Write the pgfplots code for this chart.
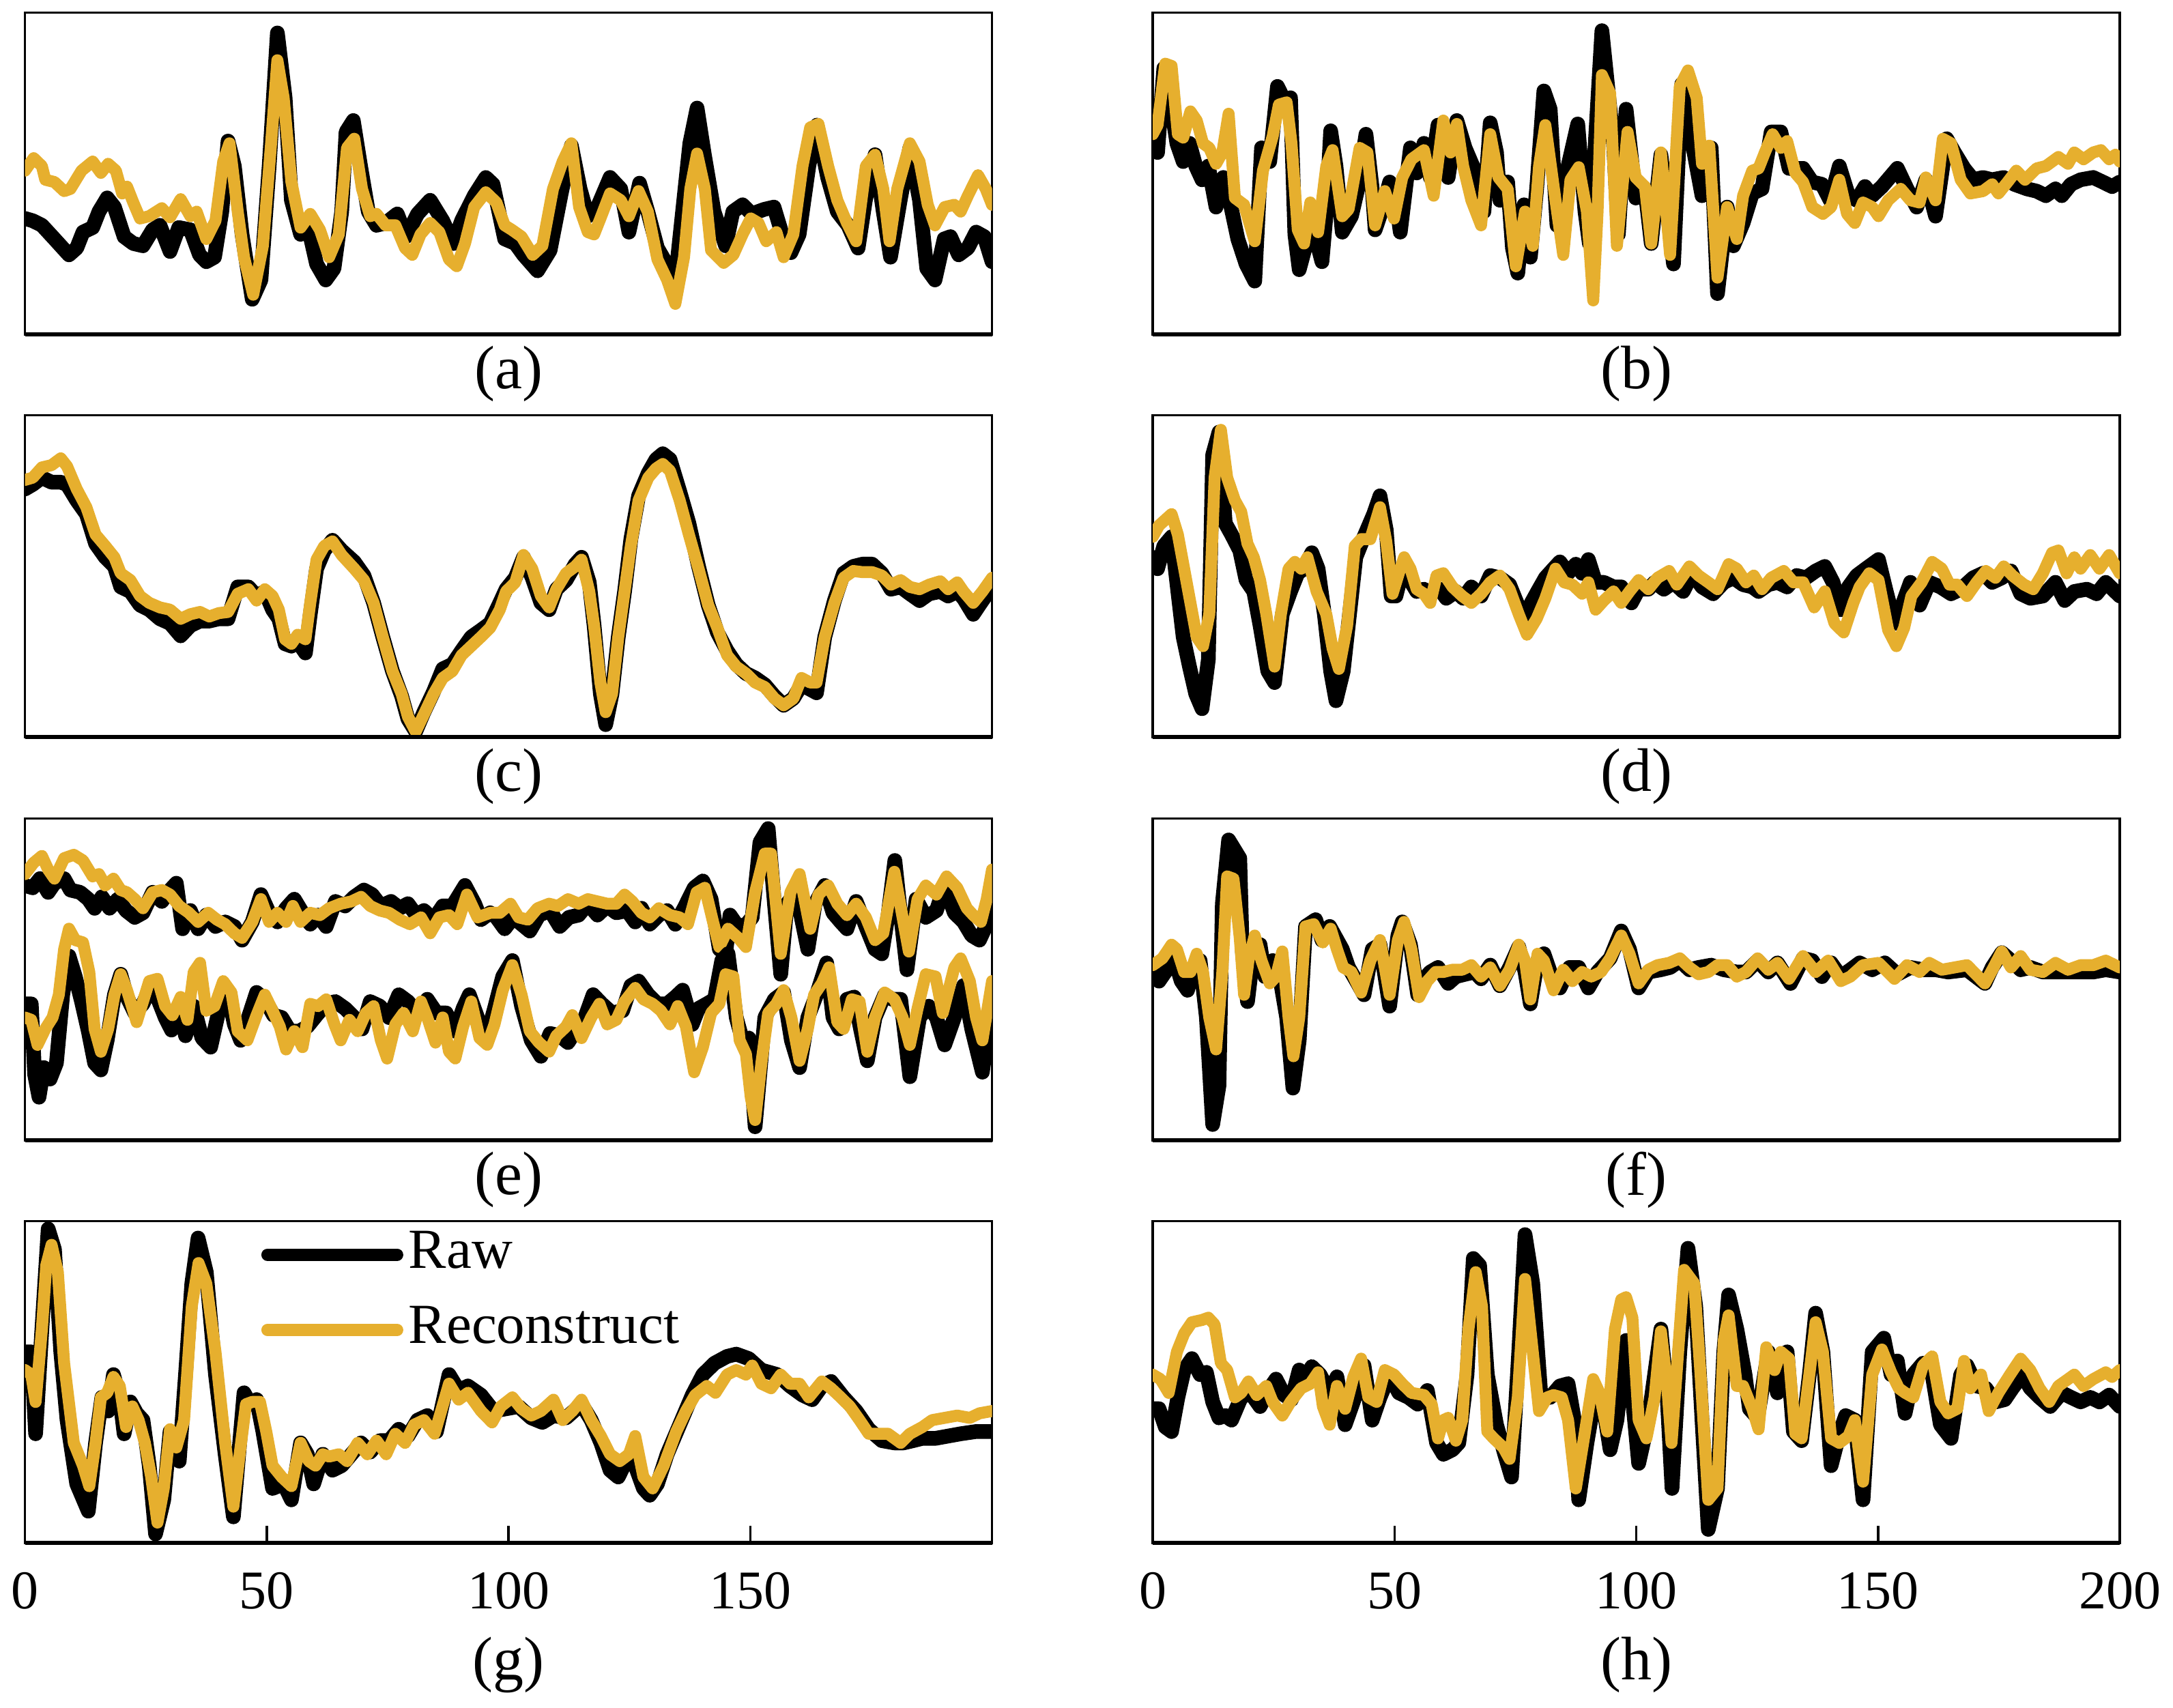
\documentclass[border=0pt]{standalone}
\usepackage{fontspec}
\setmainfont{Liberation Serif}
\usepackage{pgfplots}
\pgfplotsset{compat=1.18}
\definecolor{recc}{RGB}{230,175,46}
\pgfplotsset{
  panel/.style={
    scale only axis, width=141.7pt, height=47.2pt,
    xmin=0, xmax=200, ymin=0, ymax=141.5,
    xtick=\empty, ytick=\empty,
    axis line style={line width=0.35pt},
    anchor=north west,
    after end axis/.code={\draw[line width=0.6pt] (rel axis cs:0,0) -- (rel axis cs:1,0);},
  },
  bottompanel/.style={
    xtick pos=left, tick align=inside, major tick length=2.5pt,
    xtick style={line width=0.35pt, black},
    ticklabel style={font=\fontsize{8}{9}\selectfont, yshift=-0.8pt},
    /pgf/number format/assume math mode=true,
  },
  raw/.style={black, line width=2.15pt, line join=round, line cap=round},
  rec/.style={recc, line width=1.75pt, line join=round, line cap=round},
}
\newcommand\sublabel[3]{\node[font=\fontsize{9}{10}\selectfont] at ([yshift=-#2]#1.south) {#3};}

\begin{document}
\begin{tikzpicture}
\path[use as bounding box] (0,0) rectangle (318.4pt,-250.3pt);

% (a)
\begin{axis}[panel, at={(3.66pt,-1.83pt)}, name=a]
\addplot[raw] coordinates {(0,51)(1.6,50)(3.5,48)(6.1,42)(9.1,35)(10.7,38)(12,45)(14,47)(15.3,54)(17,60)(18.5,56)(20.5,43)(22.4,40)(24.4,39)(26.4,46)(27.9,48)(30,36.5)(31.8,47)(34.2,46)(36.1,35)(37.5,32)(39.2,34)(40.7,54)(42,85)(43.3,74)(44.9,44)(47,15.5)(48.8,24)(50.5,74)(52.2,132.5)(53.8,104)(55.1,59)(57,44)(58.7,46)(60.3,31)(62.2,24)(63.9,29)(65.5,54)(66.4,89)(67.9,94)(69.4,74)(71,54)(72.7,48)(74.6,49)(77,53)(78.8,43)(81.2,53)(83.8,59)(86.4,50)(88.6,40)(90.3,50)(92.9,61)(95.3,69)(96.8,66)(99.2,42)(101.4,40)(103.1,35)(106,28)(108.6,37)(110.9,62)(113,83)(114.8,64)(116.4,52)(118.4,56)(121,69)(123.2,64)(124.9,45)(127.1,66.5)(128.8,54)(130.8,38)(132.7,31)(134.4,22)(136,54)(137.5,84)(139,99.5)(140.5,79)(142.5,54)(144.9,39)(146.4,54)(148.4,57)(150.3,53)(152.9,55)(154.9,56)(156.6,44)(158.4,36)(160.1,44)(162.1,74)(163.8,92)(166,69)(168,54)(170.2,48)(172.3,38)(173.8,59)(175.8,79)(177.5,54)(179,34)(181,59)(183,82)(185,59)(186.5,29)(188.2,24)(190.1,42)(191.4,43)(193.1,35)(195,38)(196.7,45)(198.4,43)(200,32)};
\addplot[rec] coordinates {(0,72)(1.8,77.5)(3.5,74)(4.2,68)(6.1,67)(8.1,63)(9.4,64)(11.7,72)(14,76)(15.7,71)(17.2,75)(18.8,72)(20.1,62)(21.1,65)(22.4,58)(23.8,51)(25.7,52)(28.3,55.5)(30,51.5)(32.2,59.5)(34.2,52)(35.5,54)(37.5,42)(39.4,50)(41,76)(42.3,84)(44,54)(45.3,34)(47.2,17.5)(49.2,39)(50.9,84)(52.2,120.5)(53.5,104)(55.1,67)(57,47)(59,53)(61,46)(62.9,34)(64.9,44)(66.6,82)(68.1,86)(69.7,64)(71.4,52)(72.7,53)(74.6,48)(76.6,48)(78.6,38)(80.1,35)(81.8,44)(83.8,49)(85.7,45)(87.7,33)(89.3,30)(91,40)(92.9,56)(95.3,62.5)(97.5,58)(99.2,48)(100.7,46)(102.7,43)(105,35)(107,39)(109.2,64)(111.2,76)(113,84)(114.6,56)(116.4,45)(117.7,44)(119,51)(121,62)(123.2,59)(124.9,52)(126.9,63)(128.8,54)(130.8,33)(132.8,24)(134.5,13.5)(136.3,34)(137.6,64)(139,79.5)(140.6,64)(141.9,37)(144.5,31.5)(146.5,35)(148.4,44)(150.1,51)(151.7,49)(153.3,41)(155.4,45)(156.9,34)(158.9,44)(160.8,74)(162.4,91)(164.1,92.5)(166.1,74)(168,59)(170,49)(171.9,41)(173.9,74)(175.8,79)(177.5,64)(178.8,41)(180.4,64)(183,84)(185,76)(186.7,57)(188.2,48)(190.2,56)(192.2,57)(193.5,54)(195,61)(197.1,70)(198.7,64)(200,57)};
\end{axis}
\sublabel{a}{5.8pt}{(a)}

% (b)
\begin{axis}[panel, at={(168.9pt,-1.83pt)}, name=b]
\addplot[raw] coordinates {(0,82)(1,80)(2.3,117)(3.7,102)(5,84)(6.3,76)(7.6,84)(8.9,74)(10.2,68)(11.5,74)(13.1,56)(14.6,69)(15.9,59)(17.6,42)(19.3,31)(21.1,23.5)(22.5,82)(24.2,76)(25.8,109)(27.4,102)(28.5,104)(29.4,44)(30.3,28.5)(32.9,49)(35,32)(35.9,54)(36.8,89.5)(37.9,74)(39.2,45)(41.1,52)(42.4,64)(44.1,88)(45.4,64)(46,46)(47.6,56)(49,67)(50.3,59)(51.2,45)(53.3,82)(54.6,71)(56.1,84)(57.4,69)(59,92)(61.1,69)(62.9,94)(64.6,82)(66.6,72)(68.5,54)(69.8,93)(71.1,80)(71.8,59)(73.4,67)(74.4,38)(75.5,27)(76.8,57)(78.1,34)(79.4,64)(80.9,107)(82.2,99)(83.6,48)(85.9,74)(87.9,92.5)(89.4,54)(90.3,40)(92.9,133.5)(95.3,84)(96.3,44)(97.9,99)(99.9,60)(101.8,64)(103.1,40)(105.1,79)(107.7,31)(109.4,110)(111.6,84)(113.6,61)(115.5,82)(116.8,18)(118.8,56)(120.1,39)(122.1,49)(124,62)(126,64)(127.9,89)(129.9,89)(131.6,73)(134.5,73)(136.4,67)(138.4,66)(140.1,59)(142,74)(143.9,61)(145.6,59)(147.3,65)(148.8,61)(150.8,65)(154,73)(156,64)(158,56)(159.9,68)(161.9,52)(163.4,74)(164.2,86)(165.8,80)(167.8,73)(169.7,68)(171.7,69)(173.6,68)(176,69)(178.2,66)(180.8,64)(182.8,63)(184.7,61)(186.7,64)(188,61)(189.9,66)(191.9,68)(194.5,69)(196.5,67)(198.4,65)(200,67)};
\addplot[rec] coordinates {(0,88)(1,92)(2.6,119)(3.9,118)(5.2,88)(6.3,86.5)(7.8,98)(9.1,94)(10.4,84)(11.7,82)(13.1,75)(14.4,80)(15.7,97)(17,60)(18.9,57)(21.1,41)(22.8,72)(24.8,87)(26.1,101)(27.7,102)(28.7,84)(30,46)(31.3,40)(32.6,58)(34.2,45)(35.9,74)(37.2,81)(39.2,52)(40.5,55)(42.8,82)(44.4,80)(46,48)(48,63)(49.9,51)(51.6,69)(53.5,77)(56.1,81)(58.1,61)(60.1,94)(61.6,80)(62.9,92.5)(64.2,74)(65.9,59)(67.9,48)(69.8,88)(71.5,69)(73.4,64)(75.1,30)(77,54)(78.6,39)(79.9,74)(81.2,92)(83.3,59)(84.9,35)(86.4,68)(88.1,73.5)(89.8,54)(91.1,15)(92,54)(92.9,114)(94.6,106)(96,39)(98.2,89)(99.9,69)(101.8,65)(103.1,40)(105.1,80)(107,35)(109,109)(110.7,116)(112.5,104)(113.6,75)(115.1,83)(116.8,25)(118.8,56)(120.8,42)(122.1,61)(124,72)(125.3,73)(126.6,80)(128.2,88)(129.9,82)(131.2,85)(132.9,71)(134.5,67)(136.4,56)(138.6,53)(140.3,56)(142,68)(143.6,53)(145.2,49)(146.9,58)(148.8,56)(150.1,52)(152.1,59)(154.7,64)(156.7,59)(158.6,58)(159.9,69)(161.9,59)(163.4,86)(165.1,84)(167.1,68)(169.1,62)(171.7,63)(173.6,66)(174.9,62)(176.8,67)(178.6,72)(180.4,68)(182.8,73)(184.7,74)(187.3,78)(189.3,75)(190.6,80)(192.5,77)(194.5,80)(196.1,81)(197.8,77)(199.1,79)(200,76)};
\end{axis}
\sublabel{b}{5.8pt}{(b)}

% (c)
\begin{axis}[panel, at={(3.66pt,-60.83pt)}, name=c]
\addplot[raw] coordinates {(0,109)(1.6,111)(3.5,114)(5.5,112)(7.4,112)(8.7,111)(10.7,104)(12.7,98)(14.6,85)(16.6,79)(18.5,75)(19.8,66)(21.8,64)(23.8,58)(25.7,56)(27.9,52)(30,50)(32.2,44.5)(34.2,49)(36.2,51)(38.1,51)(40.1,52)(42,52)(44,66)(46.2,66)(47.9,62)(49.6,64)(51.2,56)(52.5,52)(53.8,41)(55.1,40)(56.4,42)(58,37)(59,54)(60.3,74)(61.9,82)(63.6,86.5)(65.5,82)(68.1,77)(70.1,71)(72.1,59)(74,44)(76,29)(77.9,18)(79.2,8)(80.8,2.5)(82.5,11)(84.5,20)(86.4,30)(88.4,32)(90.3,38)(92.3,44)(94.3,47)(96.2,50)(98.2,59)(99.5,65)(101.4,70)(103.1,79)(104.9,70)(106.7,59)(108.4,56)(109.9,65)(111.9,69)(113.8,76)(115.1,79)(116.7,68)(117.7,49)(119,19)(120.1,5.5)(121.4,19)(122.7,44)(124,64)(125.3,87)(126.9,106)(128.9,116)(130.5,122)(131.9,124.5)(133.4,122)(135.4,108)(137.3,94)(139.3,75)(141.3,58)(143.2,46)(145.2,38)(147.1,32)(149.1,28)(151,26)(153,23)(155,18)(156.9,14)(158.9,17)(160.6,23)(162.4,21)(163.7,19.5)(165.4,44)(167.4,60)(169.3,72)(171.3,75)(173.2,76)(175.2,76)(177.2,72)(179.1,65)(181.1,66)(183,63)(185,60)(187,63)(189.3,64)(190.9,62)(192.8,64)(194.1,61)(196.1,54)(198,60)(200,66)};
\addplot[rec] coordinates {(0,113)(1.6,114)(3.5,118.5)(5.5,119.5)(7.4,122.5)(8.7,119)(10.7,109)(12.7,101)(14.6,89)(16.6,84)(18.5,79)(19.8,72)(21.8,69)(23.8,62)(25.7,59)(27.9,57)(30,56)(32.2,52)(34.2,54)(36.2,55)(38.1,53)(40.1,54.5)(42,55)(44,63)(46.2,65)(47.9,60)(49.6,65)(51.2,62)(52.5,56)(53.8,43)(55.1,41)(56.4,45)(58,43)(59,59)(60.3,78)(61.9,84)(63.6,86)(65.5,80)(68.1,74)(70.1,69)(72.1,59)(74,44)(76,29)(77.9,19)(79.2,9)(80.8,2.5)(82.5,10)(84.5,19)(86.4,26)(88.4,29)(90.3,36)(92.3,40)(94.3,44)(96.2,48)(98.2,56)(99.5,64)(101.4,68)(103.1,80)(104.9,74)(106.7,62)(108.4,57)(109.9,65)(111.9,72)(113.8,75)(115.1,78)(116.7,64)(117.7,49)(119,24)(120.1,11)(121.4,19)(122.7,44)(124,64)(125.3,84)(126.9,104)(128.9,114)(130.5,118)(131.9,120)(133.4,117)(135.4,104)(137.3,89)(139.3,74)(141.3,58)(143.2,48)(145.2,36)(147.1,31)(149.1,28)(151,24)(153,22)(155,17)(156.9,14)(158.9,17)(160.6,26)(162.4,24)(163.7,24)(165.4,44)(167.4,59)(169.3,70)(171.3,73)(173.2,72.5)(175.2,72.5)(177.2,71)(179.1,67)(181.1,69)(183,66)(185,65)(187,67)(189.3,68.5)(190.9,65)(192.8,68)(194.1,64)(196.1,59)(198,64)(200,70)};
\end{axis}
\sublabel{c}{5.8pt}{(c)}

% (d)
\begin{axis}[panel, at={(168.9pt,-60.83pt)}, name=d]
\addplot[raw] coordinates {(0,79)(1,74)(2.3,84)(3.9,88)(5.2,64)(6.3,44)(7.6,31)(8.9,19)(10.2,12.5)(11.5,34)(12.4,124)(13.7,134)(15,94)(16.3,89)(18,82)(19.3,69)(20.9,64)(22.2,49)(23.8,29)(25.2,24)(26.8,54)(28.5,64)(30,72)(31.3,74)(32.9,81)(34.2,74)(35.5,54)(36.8,29)(37.9,16)(39.4,29)(40.7,54)(42,79)(43.7,88)(45.7,98)(47,106)(48.3,91)(49.3,62)(50.3,62)(51.6,73)(52.9,70)(54.6,64)(56.1,65)(57.4,63)(59.4,65)(60.7,61)(62.7,64)(64.2,61)(65.9,66)(67.9,62)(69.8,71)(71.8,70)(73.8,67)(75.7,57)(77,52)(78.3,59)(79.6,64)(81.2,70)(82.9,74)(84.2,77)(85.9,72)(87.5,76)(88.8,72)(90.1,78)(91.6,68)(93.3,68)(95.3,66)(96.9,66)(99,59)(100.5,65)(102.5,65)(103.8,68)(105.7,65)(107.7,68)(109.7,64)(111.6,72)(113.6,66)(115.9,63)(118.1,68)(120.1,70)(122.1,67)(124,66)(125.3,64)(127.3,67)(129.2,68)(131.2,66)(133.2,71)(135.1,70)(137.1,73)(139,75)(140.7,68)(142.3,56)(143.9,66)(145.6,71)(147.5,74)(150.1,78)(151.7,64)(153.4,50)(155,58)(156.7,68)(158.6,58)(160.6,68)(162.9,66)(165.1,63)(167.1,65)(169.7,70)(171.7,72)(173.6,68)(175.6,70)(177.5,73)(179.5,63)(181.5,61)(184.1,62)(186.7,68)(188.6,60)(190.6,64)(193.2,65)(195.2,63)(197.1,68)(200,62)};
\addplot[rec] coordinates {(0,88)(1.3,93)(3.9,98)(5.2,89)(6.5,74)(7.8,59)(9.1,44)(10.4,40)(11.7,54)(12.8,114)(14.1,135)(15.4,114)(17,104)(18.3,99)(19.6,85)(20.9,79)(22.2,69)(23.5,54)(25.2,31)(26.5,54)(28.1,74)(29.4,77)(30.7,74)(32,79)(33.9,64)(35.9,54)(37.2,39)(38.5,30)(40.2,49)(41.8,84)(43.1,87)(45,87)(47,101)(48.3,86)(49.6,63)(50.9,72)(52,79)(53.3,74)(54.6,65)(56.1,63)(57.4,59)(58.7,71)(60.1,72)(62,66)(64,62)(65.9,59)(67.9,63)(69.8,68)(71.8,71)(73.8,65)(75.7,54)(77.4,45)(79.4,52)(81.2,61)(83.3,74)(85.1,68)(86.8,67)(88.8,63)(90.1,68)(91.6,56)(93.3,60)(95.3,64)(96.9,59)(98.6,64)(100.5,69)(102.5,65)(104.4,70)(106.8,73)(108.4,67)(111,75)(112.9,71)(114.9,68)(116.8,65)(119.1,76)(120.8,74)(122.7,68)(124.3,71)(126,65)(127.9,70)(130.5,73)(132.5,68)(134.5,68)(136.8,57)(139,64)(141,50)(142.9,46)(144.9,59)(146.2,66)(148.2,72)(150.1,69)(152.1,47)(153.8,40)(155.4,48)(156.9,62)(159,68)(161.2,77)(163.2,74)(164.8,67)(166.4,67)(168.4,62)(170.4,68)(172.3,73)(174.3,70)(176,75)(177.8,71)(180.2,67)(182.1,65)(184.1,72)(186,81)(187.3,82)(189,72)(190.6,79)(191.9,74)(193.9,80)(195.8,74)(197.8,80)(200,72)};
\end{axis}
\sublabel{d}{5.8pt}{(d)}

% (e)
\begin{axis}[panel, at={(3.66pt,-119.93pt)}, name=e]
\addplot[raw] coordinates {(0,112)(1.6,111)(3.1,115)(4.8,109)(6.1,113)(8.1,115)(9.4,110)(11.4,109)(13.1,106)(14.4,102)(15.9,107)(17.5,102)(19.2,106)(20.9,101)(22.7,98)(24.4,100)(26.4,109)(28.3,105)(30,110)(31.3,113)(32.6,93)(34.2,101)(35.8,93)(37.5,99)(39.4,94)(41.4,96)(43.3,94)(44.9,88)(47,96)(48.8,108)(50.5,100)(52.2,96)(54,102)(55.7,106)(57.4,100)(59,95)(60.6,99)(62.3,94)(64.2,105)(66.2,103)(68.1,107)(70.1,110)(71.8,108)(73.6,103)(75.7,105)(77.5,102)(79.2,104)(80.9,99)(82.5,101)(84.5,97)(86.4,103)(88.4,103)(91,112)(93,104)(94.3,97)(96.2,100)(97.5,98)(99.2,93)(101,98)(102.7,95)(104.4,92)(106.3,99)(108.6,101)(110.6,94)(112.5,98)(114.5,99)(116.4,104)(118.4,99)(120.4,103)(122.3,100)(124.5,101)(126.2,96)(127.5,102)(129.2,95)(131.1,99)(132.8,101)(134.5,95)(136.3,102)(138.4,111)(140.2,114)(141.9,106)(143.6,84)(144.9,82)(145.8,99)(147.1,95)(148.8,94)(150.4,98)(152,131)(153.7,137)(155,104)(156.3,73)(157.6,104)(159.5,109)(161.9,84)(163.4,104)(165.4,112)(167.1,100)(168.7,96)(170,93)(171.9,105)(173.9,94)(175.8,84)(177.2,82)(178.5,99)(179.9,123)(181.1,99)(182.4,75)(184.3,106)(186.3,98)(188.5,101)(190.2,112)(192.2,100)(194.1,96)(195.8,90)(197.4,88)(198.7,94)(200,112)};
\addplot[rec] coordinates {(0,117)(1.8,122)(3.5,125)(4.8,119)(6.1,115)(8.1,124)(10.1,125.5)(12,123)(14,116)(15.3,117)(16.6,112)(18.3,115)(19.8,110)(21.1,109)(22.7,106)(24.4,102)(26.4,109)(28.3,110)(30,108)(31.9,103)(33.9,100)(35.8,96)(37.9,100)(39.7,97)(41.4,95)(43.3,91)(44.9,89)(47,96)(48.8,106)(50.5,96)(52.2,100)(54,96)(55.4,103)(57,96)(59,100)(61,99)(62.9,102)(65.3,104)(67.5,105)(69.5,107)(71.4,103)(73.4,101)(75.3,100)(77.5,97)(79.6,95)(81.9,98)(83.8,91)(85.7,98)(87.7,99)(89.4,95)(91.4,108)(93.6,98)(96.2,100)(98.2,100)(100.4,104)(102.1,98)(104,97)(106,102)(108.4,104)(110.2,103)(112.3,106)(114.5,104)(116.4,106)(118.4,105)(120.4,104)(122.3,104)(124,108)(125.6,105)(127.5,100)(129.2,98)(131.1,102)(133.4,99)(135.4,98)(137.1,95)(138.9,109)(140.6,111)(142.3,96)(143.6,85)(145.4,93)(147.5,89)(149.1,85)(151,109)(153,126)(154.3,126)(156.3,82)(158.3,109)(160.2,117)(162.4,93)(164.1,108)(166.1,112)(168,104)(170,99)(171.9,104)(173.9,98)(175.8,88)(177.5,91)(179.8,118)(181.5,98)(182.8,83)(184.6,106)(186.3,112)(188.5,108)(190.6,116)(192.8,111)(194.8,102)(196.1,99)(197.7,96)(198.9,106)(200,119)};
\addplot[raw] coordinates {(0,60)(1.3,60)(2,29)(2.9,19)(3.9,32)(5.2,27)(6.5,34)(7.8,64)(9.1,81)(10.4,72)(11.7,61)(13.1,48)(14.4,34)(15.7,31)(17,44)(18.5,64)(19.8,73)(21.1,63)(22.7,56)(24.4,60)(26.1,68)(27.7,61)(29,54)(30.3,48.5)(31.9,59)(33.2,46)(34.9,59)(36.6,45)(38.4,41)(40.1,57)(42,64)(43.3,51)(44.6,44)(46.2,54)(47.9,65)(49.6,62)(51.4,55)(53.1,54)(54.8,48)(56.7,48)(58.4,50)(60.3,55)(62.3,60)(64.2,61)(66.2,58)(68.1,54)(69.7,49)(71.4,61)(73.4,59)(75.3,54)(77.3,64)(79.2,61)(81.2,56)(83.2,62)(85.1,56)(87.1,56)(89,48)(90.6,58)(91.9,64)(93.6,54)(95.3,44)(97.1,58)(98.8,72)(100.8,79)(102.7,59)(104.7,44)(106.7,37)(108.6,47)(110.6,46)(112.3,43)(113.8,48)(115.8,54)(117.5,64)(119.3,60)(121.4,56)(123.6,57)(125.3,68)(126.9,70)(128.9,64)(130.8,60)(132.8,60)(134.5,63)(136,66)(138,51)(139.3,58)(141,60)(142.6,62)(144.1,79)(145.4,82)(147.1,54)(148.4,44)(149.7,45)(151,6)(153,54)(155,62)(156.9,65)(158.5,44)(160.2,32)(161.9,54)(163.7,64)(165.8,78)(167.1,54)(168.4,49)(170,62)(171.5,63)(172.8,49)(174.2,35)(175.8,54)(177.8,64)(179.4,62)(181.1,62)(183,28)(185,54)(186.9,59)(188.5,54)(190.2,42)(192.2,54)(194.1,68)(195.8,49)(198,30)(200,61)};
\addplot[rec] coordinates {(0,54)(1.3,53)(2.6,42)(4.2,49)(5.7,54)(7,64)(8.1,84)(9.1,93)(10.4,88)(12,87)(13.3,74)(14.4,49)(15.7,39)(17.2,49)(18.5,64)(19.8,73)(21.1,66)(23.1,52)(24.4,61)(25.7,70)(27.4,71)(29,59)(30.5,55)(32.2,63)(33.6,53)(34.9,74)(36.2,78)(37.5,57)(39.2,59)(41,70)(42.7,65)(44,48)(46,44)(47.9,55)(49.6,64)(51.2,57)(52.7,50)(54,40)(55.7,48)(57.4,41)(59,60)(60.6,59)(62.3,62)(64,51)(65.3,44)(67.1,53)(68.8,48)(70.5,56)(72.1,59)(73.6,44)(74.9,36)(76.6,51)(78.3,56)(80.2,48)(81.9,61)(83.2,54)(84.9,43)(86.4,54)(87.7,39)(89,36)(90.6,50)(92.3,61)(94,45)(95.6,42)(97.1,51)(98.8,66)(100.8,77)(102.7,64)(104.4,48)(106.3,43)(108.4,39)(109.9,46)(111.9,50)(113.2,55)(115.1,45)(117.1,54)(118.8,60)(120.4,51)(122.3,53)(124,61)(126.2,67)(127.9,62)(129.8,60)(131.5,57)(133.4,51)(135,59)(136.7,50)(138.4,30)(140.2,41)(141.9,56)(143.6,60)(144.9,73)(146.5,72)(147.8,44)(149.1,38)(150.1,19)(151,9)(152.3,34)(153.7,56)(155.4,60)(156.9,66)(158.5,54)(160.2,35)(161.9,49)(163.2,64)(164.8,69)(166.3,76)(168,52)(169.3,49)(171,62)(172.6,61)(174.2,39)(175.8,54)(177.8,65)(179.8,62)(181.5,54)(183,42)(184.6,58)(186.3,73)(188.3,72)(189.8,56)(192.2,76)(193.5,80)(195.4,70)(196.7,54)(198,44)(200,70)};
\end{axis}
\sublabel{e}{5.8pt}{(e)}

% (f)
\begin{axis}[panel, at={(168.9pt,-119.93pt)}, name=f]
\addplot[raw] coordinates {(0,74)(1.3,70)(2.6,74)(4.6,79)(5.9,70)(7.2,66)(8.5,76)(9.8,79)(11.1,54)(12.4,7)(13.7,24)(14.4,104)(15.7,132)(18,124)(18.5,84)(19.6,61)(20.9,84)(22.2,86)(23.2,72)(24.8,79)(26.1,74)(27.7,54)(29,23)(30.3,44)(31.6,94)(33.7,97)(35,88)(36.6,94)(37.9,89)(39.2,84)(40.5,76)(42.4,69)(43.7,64)(45.4,84)(47,86)(49,59)(50.7,90)(51.6,96)(53.3,86)(54.8,64)(56.1,71)(57.4,74)(59,76)(61.1,69)(62.7,72)(64.6,73)(66.6,74)(67.9,71)(69.8,77)(71.8,68)(73.8,76)(75.7,85)(77,74)(78.1,60)(79.6,79)(80.9,82)(82.2,74)(84.2,67)(86.2,76)(88.1,76)(90.1,67)(92,74)(94.6,80)(96.9,92)(98.6,84)(100.5,67)(102.5,74)(105.1,75)(107,76)(109,79)(111,75)(112.9,76)(115.5,77)(118.1,75)(120.8,74)(122.7,74)(125.1,79)(127.3,74)(129.2,78)(131.9,69)(134.5,80)(136.4,79)(138.4,72)(140.3,78)(142.3,72)(144.3,75)(146.2,78)(148.8,75)(151.4,78)(154,73)(156.7,76)(159.3,75)(161.9,75)(164.5,74)(168.4,75)(172.1,69)(173.6,76)(175.6,82.5)(177.5,79)(179.5,75)(181.5,76)(184.1,74)(186.7,74)(190.6,74)(194.5,74)(197.1,75)(200,74)};
\addplot[rec] coordinates {(0,77)(2,80)(3.9,86)(5,84)(6.5,74)(7.8,74)(9.1,82)(10.4,74)(11.7,54)(13.1,40)(14.4,74)(15.4,116)(16.7,115)(18,89)(18.9,64)(19.8,79)(21.1,90)(22.5,79)(24.2,69)(25.5,72)(26.8,83)(28.1,54)(29.1,37)(30.3,54)(31.6,94)(33.3,95)(35.2,87)(36.8,93)(38.1,84)(39.4,76)(41.1,74)(43.1,65)(45,79)(47,88)(49,64)(50.7,88)(52,96)(53.5,84)(55.1,63)(56.8,70)(58.5,74)(60.1,74)(62,75)(64,75)(65.9,77)(67.9,72)(69.8,76)(71.8,68)(73.8,75)(75.7,86)(77,79)(78.1,62)(79.6,82)(80.9,79)(82.9,66)(84.9,75)(86.8,70)(88.8,74)(90.7,72)(92.7,74)(94.6,80)(96.9,90)(98.6,82)(100.5,69)(102.5,75)(104.4,77)(106.8,78)(109,80)(111,76)(112.9,73)(114.9,74)(116.8,77)(118.8,77)(120.8,72)(122.7,74)(125.1,80)(127.3,75)(129.2,78)(131.6,71)(134.5,81)(137.1,74)(139.7,79)(142.3,70)(144.3,72)(146.9,77)(150.1,78)(153.4,71)(156,77)(158.6,74)(160.6,78)(163.2,75)(165.8,76)(168.4,77)(172.1,69)(173.9,76)(175.6,83)(177.5,76)(179.5,81)(181.5,75)(184.1,74)(186.7,78)(189.3,75)(191.9,77)(194.5,77)(197.1,79)(200,76)};
\end{axis}
\sublabel{f}{5.8pt}{(f)}

% (g)
\begin{axis}[panel, bottompanel, at={(3.66pt,-178.93pt)}, name=g,
  xtick={0,50,100,150},
  legend style={draw=none, fill=none, at={(rel axis cs:0.243,0.99)}, anchor=north west,
    font=\fontsize{8.3}{9}\selectfont, inner sep=0pt, row sep=2.5pt,
    nodes={inner sep=0.8pt}},
  legend cell align=left,
  legend image code/.code={\draw[#1, line width=1.8pt] (0pt,0pt) -- (19pt,0pt);},
]
\addplot[raw] coordinates {(0,84)(1.3,84)(2.2,48)(3.5,94)(4.8,138)(6.1,129)(7.4,84)(8.7,54)(10.7,26)(13.1,14)(14.6,44)(15.9,64)(17.2,58)(18.3,74)(19.6,64)(20.5,48)(21.8,62)(23.1,57)(24.4,54)(25.7,34)(27,4)(28.7,19)(30,49)(31.9,36)(33.2,74)(34.5,114)(35.8,134)(37.5,119)(39.4,74)(41.4,39)(43.1,11.5)(44.4,44)(45.3,66)(46.6,61)(47.9,63)(49.2,49)(51.2,24)(53.5,26)(55.1,19)(57,44)(58.4,39)(59.7,26)(61.6,39)(63.6,32)(65.5,34)(67.5,39)(69.5,44)(71.4,40)(73.4,45)(75.3,45)(77.3,50)(79.2,47)(81.2,54)(83.2,56)(85.1,49)(87.7,74)(89.7,67)(91.6,69)(94.3,65)(96.9,58)(99.5,59)(102.1,60)(104.7,55)(107,53)(109.3,56)(111.9,55)(115.1,61)(117.1,54)(119.1,44)(121,32)(122.7,29)(124.3,36)(126.2,34)(127.9,24)(129.2,21)(130.8,26)(132.8,39)(135.4,52)(138,65)(140.2,74)(142.6,79)(145.2,82)(147.1,83)(149.7,81)(152.3,76)(155.6,74)(158.2,69)(160.8,65)(162.8,63)(164.8,69)(166.7,71)(169.3,64)(171.9,58)(174.5,50)(177.2,45)(179.8,44)(181.7,44)(183.7,45)(185.6,46)(188.3,46)(190.9,47)(193.5,48)(196.7,49)(200,49)};
\addplot[rec] coordinates {(0,76)(1.3,74)(2.2,62)(3.5,94)(4.4,122)(5.5,131)(6.8,119)(8.1,79)(10.1,44)(12,34)(13.3,25)(14.6,44)(15.7,64)(17,66)(18.3,73)(19.6,69)(20.9,51)(22.2,60)(23.5,54)(24.8,44)(26.1,29)(27.4,9)(28.7,24)(30,50)(31.3,42)(32.9,54)(34.5,104)(35.9,123)(37.5,114)(39.4,84)(41.4,44)(43.1,16)(44.4,39)(45.7,61)(47,62)(48.6,62)(49.9,49)(51.2,34)(53.1,29)(55.1,25)(57,44)(58.7,36)(60.1,34)(61.6,39)(62.9,38)(64.9,39)(66.6,36)(68.8,44)(70.8,39)(72.7,45)(74.7,39)(76.6,48)(78.6,44)(80.5,52)(82.5,54)(84.7,48)(87.7,70)(89.7,63)(91.6,66)(94.3,58)(96.6,53)(98.4,60)(100.8,64)(102.7,59)(104.7,56)(106.7,58)(109.3,63)(111.2,54)(113.2,58)(115.1,63)(117.1,54)(119.1,47)(121,39)(123,36)(124.9,39)(126.2,47)(127.9,29)(129.8,24)(132.1,34)(134.7,49)(136.7,58)(138.6,65)(141,69)(142.8,66)(145.2,74)(147.1,76)(149.1,74)(150.4,78)(152.3,70)(154.3,68)(156.3,74)(158.2,70)(160.2,70)(162.1,64)(164.8,71)(166.7,68)(168.7,64)(170.6,60)(172.6,54)(174.5,48)(176.5,48)(178.5,48)(181.1,44)(183,48)(185.6,51)(187.6,54)(190.2,55)(192.8,56)(195.4,55)(197.4,57)(200,58)};
\legend{Raw, Reconstruct}
\end{axis}
\sublabel{g}{17.9pt}{(g)}

% (h)
\begin{axis}[panel, bottompanel, at={(168.9pt,-178.93pt)}, name=h,
  xtick={0,50,100,150,200}]
\addplot[raw] coordinates {(0,59)(1.3,59)(2.6,51)(3.9,49)(5.2,64)(6.5,76)(8.1,81)(9.8,74)(11.1,75)(12.4,62)(13.7,55)(15,56)(16.3,54)(18.3,64)(20.2,66)(22.2,60)(24.2,68)(25.5,72)(27.2,65)(28.7,63)(30.3,76)(31.6,72)(32.9,77.5)(34.6,74)(36.6,66)(38.1,73)(39.8,52)(41.8,64)(43.7,78)(45.4,54)(47,64)(49,74)(50.9,66)(52.9,64)(54.8,61)(56.8,67)(58.7,44)(60.1,39)(62,41)(63.3,44)(65,74)(66.3,125)(67.6,122)(69.2,74)(71.1,52)(72.8,39)(74.2,29)(75.7,84)(77,135.5)(78.6,114)(80.3,64)(82.2,64)(84.2,69)(85.9,70)(87.2,54)(88.1,19)(89.8,44)(91.4,64)(92.9,64)(94.6,41)(96,54)(97.9,89)(99.2,64)(100.5,35)(102.5,54)(103.8,74)(105.1,94)(106.4,64)(107.4,24)(109,84)(110.7,129.5)(112.3,104)(113.6,54)(114.9,6)(116.8,24)(118.1,84)(119.1,109)(120.8,94)(122.5,74)(123.4,59)(125.1,55)(127.3,84)(129.2,66)(131.2,84)(132.5,49)(134.2,45)(135.8,74)(137.1,101)(138.6,84)(140.3,34)(142,48)(143.3,56)(145.2,54)(146.9,19)(148.8,84)(151.2,90)(152.7,74)(154,80)(155.6,57)(157.3,74)(159.3,79)(161.2,74)(162.9,52)(165.1,46)(167.1,74)(168.4,78)(170.4,69)(172.3,68)(174.3,62)(176.2,63)(177.8,68)(179.9,74)(181.5,68)(183.4,64)(185.6,60)(188,66)(189.9,64)(191.9,62)(193.9,64)(195.8,62)(197.8,65)(200,60)};
\addplot[rec] coordinates {(0,74)(1.6,72)(3.3,66)(5,84)(6.5,92)(8.1,97)(10.2,98)(11.5,99)(12.8,96)(14.1,79)(15.4,76)(17,64)(18.3,66)(19.8,71)(21.5,65)(23.5,69)(24.8,62)(26.8,56)(28.5,62)(30.7,68)(32.6,70)(34.2,75)(35.2,60)(36.6,52)(38.1,69)(39.8,59)(41.5,73)(43.1,81)(44.6,64)(46.3,62)(48,76)(49.9,74)(51.6,70)(53.5,66)(56.1,65)(57.7,61)(59,46)(60.1,54)(61.1,55)(62.7,45)(64,54)(65.3,94)(66.8,119)(68.1,104)(69.2,49)(70.5,46)(72.5,42)(73.8,37)(75.5,64)(77,116)(78.6,84)(79.9,58)(81.6,64)(82.9,65)(84.6,64)(85.9,54)(87.5,24)(89.4,49)(91.1,72)(92.4,66)(94,49)(95.6,94)(96.9,107)(97.9,108)(99.2,99)(100.5,54)(102.1,46)(103.8,64)(105.1,93)(106.4,69)(107.3,44)(109,94)(109.9,120)(112,114)(113.3,74)(114.9,19)(116.8,24)(118.1,89)(119.1,100)(120.8,69)(122.1,69)(124,59)(125.3,50)(126.9,86)(128.6,76)(129.9,84)(131.6,81)(132.9,48)(134.2,46)(135.8,74)(137.1,97)(138.6,84)(140.3,46)(142,44)(143.9,47)(145.2,54)(146.9,27)(148.8,74)(150.8,85)(152.7,75)(154.3,68)(155.6,66)(157.3,64)(159.3,78)(161.2,82)(162.9,62)(164.5,57)(166.4,59)(167.8,80)(169.1,68)(171.3,74)(172.9,58)(174.9,66)(177.3,74)(179.5,81)(181.5,76)(183.4,68)(185.4,62)(187.3,69)(189.3,72)(190.6,74)(192.5,69)(194.5,72)(197.1,75)(198.4,73)(200,76)};
\end{axis}
\sublabel{h}{17.9pt}{(h)}

\end{tikzpicture}
\end{document}
